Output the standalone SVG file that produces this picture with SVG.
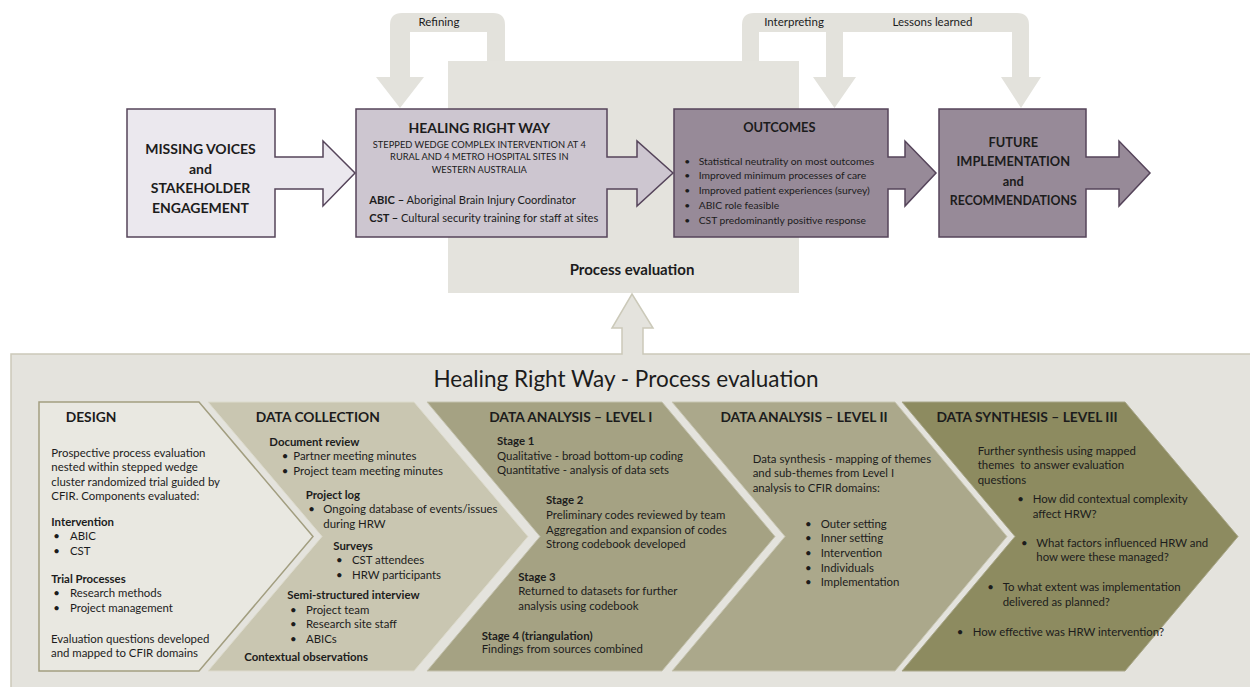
<svg xmlns="http://www.w3.org/2000/svg" width="1250" height="687" viewBox="0 0 1250 687">
<style>
text{font-family:Lato,"Open Sans","Liberation Sans",sans-serif;fill:#1c1c1c}
.b{font-weight:700}
.t14{font-size:14px;font-weight:700}
.t13{font-size:12.8px;font-weight:700}
.h14{font-size:13.8px;font-weight:700}
.s12{font-size:11.4px}
.s11{font-size:10.3px}
.s9{font-size:9.3px}
.lbl{font-size:11.5px}
.m{text-anchor:middle}
.loop{fill:#e3e2dc}
.pbox{stroke:#55445a;stroke-width:1.5}
</style>
<rect width="1250" height="687" fill="#ffffff"/>
<g id="loops">
<path class="loop" d="M487 61 L487 32 L410 32 L410 77 L424 77 L400 108 L376 77 L390 77 L390 25 Q390 13 402 13 L493 13 Q505 13 505 25 L505 61 Z"/>
<path class="loop" d="M759 61 L759 32 L826 32 L826 77 L813 77 L834.5 108 L856 77 L843 77 L843 32 L1012 32 L1012 77 L1001 77 L1021 108 L1041 77 L1029 77 L1029 25 Q1029 13 1017 13 L754 13 Q742 13 742 25 L742 61 Z"/>
<text class="lbl m" x="439" y="26.4">Refining</text>
<text class="lbl m" x="794" y="26.4">Interpreting</text>
<text class="lbl m" x="932.5" y="26.4">Lessons learned</text>
</g>
<g id="process-evaluation">
<rect x="448" y="61" width="351" height="232" fill="#e4e3dd"/>
<text class="m" style="font-size:15px;font-weight:700" x="632" y="274.7">Process evaluation</text>
</g>
<g id="missing-voices">
<path class="pbox" fill="#ebe8ee" d="M127 109 H275 V157 H323 V141 L355 173 L323 206 V189 H275 V237 H127 Z"/>
<text class="t14 m" x="200.5" y="154.2">MISSING VOICES</text>
<text class="t14 m" x="200.5" y="173.8">and</text>
<text class="t14 m" x="200.5" y="193.4">STAKEHOLDER</text>
<text class="t14 m" x="200.5" y="212.8">ENGAGEMENT</text>
</g>
<g id="healing-right-way">
<path class="pbox" fill="#cdc6d0" d="M356 109 H607 V157 H637 V141 L673 173 L637 206 V189 H607 V237 H356 Z"/>
<text class="t14 m" x="479.3" y="132.8">HEALING RIGHT WAY</text>
<text class="s9 m" x="479.3" y="148">STEPPED WEDGE COMPLEX INTERVENTION AT 4</text>
<text class="s9 m" x="479.3" y="160.4">RURAL AND 4 METRO HOSPITAL SITES IN</text>
<text class="s9 m" x="479.3" y="173.4">WESTERN AUSTRALIA</text>
<text style="font-size:11.1px" x="369.3" y="203.8"><tspan class="b">ABIC –</tspan> Aboriginal Brain Injury Coordinator</text>
<text style="font-size:11.1px" x="369.3" y="222.4"><tspan class="b">CST –</tspan> Cultural security training for staff at sites</text>
</g>
<g id="outcomes">
<path class="pbox" fill="#978a98" d="M674 109 H888 V157 H905 V141 L936 173 L905 206 V189 H888 V237 H674 Z"/>
<text class="t13 m" x="779.3" y="132.3">OUTCOMES</text>
<g class="s11">
<text x="684.3" y="165">•</text><text x="698.7" y="165">Statistical neutrality on most outcomes</text>
<text x="684.3" y="179.4">•</text><text x="698.7" y="179.4">Improved minimum processes of care</text>
<text x="684.3" y="194.4">•</text><text x="698.7" y="194.4">Improved patient experiences (survey)</text>
<text x="684.3" y="208.7">•</text><text x="698.7" y="208.7">ABIC role feasible</text>
<text x="684.3" y="223.7">•</text><text x="698.7" y="223.7">CST predominantly positive response</text>
</g>
</g>
<g id="future">
<path class="pbox" fill="#978a98" d="M939 109 H1086 V157 H1119 V141 L1150 173 L1119 206 V189 H1086 V237 H939 Z"/>
<text class="t13 m" x="1013.3" y="147">FUTURE</text>
<text class="t13 m" x="1013.3" y="166.3">IMPLEMENTATION</text>
<text class="t13 m" x="1013.3" y="185.6">and</text>
<text class="t13 m" x="1013.3" y="205.3" textLength="127" lengthAdjust="spacingAndGlyphs">RECOMMENDATIONS</text>
</g>
<g id="process-panel">
<path fill="#e4e3dd" stroke="#cbc9b9" stroke-width="1.5" d="M11 354 H622 V328 H612 L632 294 L653 328 H643 V354 H1262 V700 H11 Z"/>
<text class="m" style="font-size:22.5px" x="626" y="387">Healing Right Way - Process evaluation</text>
</g>
<g id="design">
<path fill="#e9e8e1" stroke="#a29e80" stroke-width="1.5" d="M39 402 H199 L313 536.5 L199 671 H39 Z"/>
<text class="h14" x="65.7" y="421.7">DESIGN</text>
<g class="s12">
<text x="51.3" y="456.8">Prospective process evaluation</text>
<text x="51.3" y="471.1">nested within stepped wedge</text>
<text x="51.3" y="486.1">cluster randomized trial guided by</text>
<text x="51.3" y="500.4">CFIR. Components evaluated:</text>
<text class="b" x="51.3" y="525.8">Intervention</text>
<text x="53.3" y="540.1">•</text><text x="70" y="540.1">ABIC</text>
<text x="53.3" y="554.8">•</text><text x="70" y="554.8">CST</text>
<text class="b" x="51.3" y="582.8">Trial Processes</text>
<text x="53.3" y="597.4">•</text><text x="70" y="597.4">Research methods</text>
<text x="53.3" y="612.1">•</text><text x="70" y="612.1">Project management</text>
<text x="51" y="642.8">Evaluation questions developed</text>
<text x="51" y="657.1">and mapped to CFIR domains</text>
</g>
</g>
<g id="data-collection">
<path fill="#c9c6b1" stroke="#dddbcd" stroke-width="1" d="M208 402 H414 L528 536.5 L414 671 H208 L322 536.5 Z"/>
<text class="h14 m" x="317.8" y="421.7">DATA COLLECTION</text>
<g class="s12">
<text class="b" x="269.3" y="446.1">Document review</text>
<text x="281.7" y="460.1">•</text><text x="293.3" y="460.1">Partner meeting minutes</text>
<text x="281.7" y="475.1">•</text><text x="293.3" y="475.1">Project team meeting minutes</text>
<text class="b" x="305.7" y="499.1">Project log</text>
<text x="308.3" y="513.4">•</text><text x="323.3" y="513.4">Ongoing database of events/issues</text>
<text x="323.3" y="527.8">during HRW</text>
<text class="b" x="333.3" y="550.1">Surveys</text>
<text x="336" y="564.1">•</text><text x="352" y="564.1">CST attendees</text>
<text x="336" y="579.1">•</text><text x="352" y="579.1">HRW participants</text>
<text class="b" x="287.3" y="599.1">Semi-structured interview</text>
<text x="290" y="613.8">•</text><text x="306" y="613.8">Project team</text>
<text x="290" y="628.4">•</text><text x="306" y="628.4">Research site staff</text>
<text x="290" y="642.8">•</text><text x="306" y="642.8">ABICs</text>
<text class="b" x="244.3" y="661.4">Contextual observations</text>
</g>
</g>
<g id="data-analysis-1">
<path fill="#a5a283" stroke="#c4c2ae" stroke-width="1" d="M427 402 H662 L775 536.5 L662 671 H427 L540 536.5 Z"/>
<text class="h14 m" x="570.7" y="421.7">DATA ANALYSIS – LEVEL I</text>
<g class="s12">
<text class="b" x="497" y="445.1">Stage 1</text>
<text x="497" y="459.8">Qualitative - broad bottom-up coding</text>
<text x="497" y="474.1">Quantitative - analysis of data sets</text>
<text class="b" x="546" y="504.1">Stage 2</text>
<text x="546" y="519.1">Preliminary codes reviewed by team</text>
<text x="546" y="534.1">Aggregation and expansion of codes</text>
<text x="546" y="548.1">Strong codebook developed</text>
<text class="b" x="518.3" y="580.8">Stage 3</text>
<text x="518.3" y="595.1">Returned to datasets for further</text>
<text x="518.3" y="609.8">analysis using codebook</text>
<text class="b" x="481.7" y="640.1">Stage 4 (triangulation)</text>
<text x="481.7" y="653.4">Findings from sources combined</text>
</g>
</g>
<g id="data-analysis-2">
<path fill="#aba88b" stroke="#c8c6b2" stroke-width="1" d="M672 402 H895 L1007 536.5 L895 671 H672 L785 536.5 Z"/>
<text class="h14 m" x="804" y="421.7">DATA ANALYSIS – LEVEL II</text>
<g class="s12">
<text x="752.7" y="463.1">Data synthesis - mapping of themes</text>
<text x="752.7" y="477.4">and sub-themes from Level I</text>
<text x="752.7" y="491.8">analysis to CFIR domains:</text>
<text x="805" y="528.1">•</text><text x="820.7" y="528.1">Outer setting</text>
<text x="805" y="542.4">•</text><text x="820.7" y="542.4">Inner setting</text>
<text x="805" y="557.1">•</text><text x="820.7" y="557.1">Intervention</text>
<text x="805" y="571.8">•</text><text x="820.7" y="571.8">Individuals</text>
<text x="805" y="586.4">•</text><text x="820.7" y="586.4">Implementation</text>
</g>
</g>
<g id="data-synthesis-3">
<path fill="#8d8b60" stroke="#a8a688" stroke-width="1" d="M902 402 H1125 L1238 536.5 L1125 671 H902 L1015 536.5 Z"/>
<text class="h14 m" x="1027" y="421.7">DATA SYNTHESIS – LEVEL III</text>
<g class="s12">
<text x="977.7" y="454.8">Further synthesis using mapped</text>
<text x="977.7" y="469.1" xml:space="preserve">themes  to answer evaluation</text>
<text x="977.7" y="483.8">questions</text>
<text x="1017.3" y="503.4">•</text><text x="1032.7" y="503.4">How did contextual complexity</text>
<text x="1032.7" y="517.8">affect HRW?</text>
<text x="1021" y="547.1">•</text><text x="1036.3" y="547.1">What factors influenced HRW and</text>
<text x="1036.3" y="561.4">how were these managed?</text>
<text x="987.3" y="591.4">•</text><text x="1002.7" y="591.4">To what extent was implementation</text>
<text x="1002.7" y="605.8">delivered as planned?</text>
<text x="956.7" y="635.8">•</text><text x="972.7" y="635.8">How effective was HRW intervention?</text>
</g>
</g>
</svg>
